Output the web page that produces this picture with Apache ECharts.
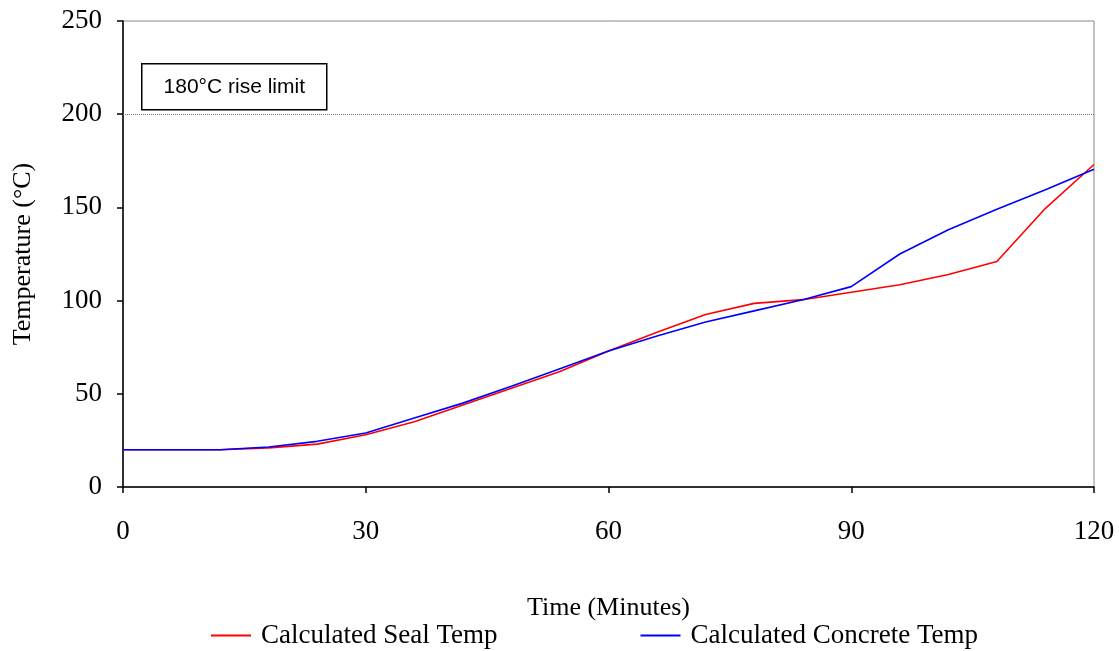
<!DOCTYPE html>
<html>
<head>
<meta charset="utf-8">
<script src="https://cdn.jsdelivr.net/npm/echarts@6/dist/echarts.min.js"></script>
<style>html,body{margin:0;padding:0;background:#fff}#c{width:1119px;height:651px}</style>
</head>
<body>
<div id="c"></div>
<script>
const times = [0,6,12,18,24,30,36,42,48,54,60,66,72,78,84,90,96,102,108,114,120];
const sealTemp = [20,20,20,21,23,28,35,44,53,62,73,83,92.5,98.5,100.5,104.5,108.5,114,121,149.5,173];
const concreteTemp = [20,20,20,21.5,24.5,29,37,45,54,63.5,73,81,88.5,94.5,100.5,107.5,125,138,149,159.5,170.5];
const limitValue = 200;
const limitLabel = '180°C rise limit';
const xTicks = [0,30,60,90,120];
const yTicks = [0,50,100,150,200,250];

const serif = '"Liberation Serif","Times New Roman",serif';
const chart = echarts.init(document.getElementById('c'));
chart.setOption({
  animation:false,
  backgroundColor:'#fff',
  grid:{left:123,right:25,top:21,bottom:164,containLabel:false,outerBoundsMode:'none',
    show:true,borderColor:'#888',borderWidth:1,backgroundColor:'transparent'},
  xAxis:{type:'value',min:0,max:120,interval:30,
    name:'Time (Minutes)',nameLocation:'middle',nameGap:108,
    nameTextStyle:{fontFamily:serif,fontSize:26,color:'#000'},
    axisLine:{lineStyle:{color:'#000',width:1.5}},
    axisTick:{show:true,length:6,inside:false,lineStyle:{color:'#000',width:1.5}},
    axisLabel:{fontFamily:serif,fontSize:27,color:'#000',margin:31},
    splitLine:{show:false}},
  yAxis:{type:'value',min:0,max:250,interval:50,
    name:'Temperature (°C)',nameLocation:'middle',nameGap:87,nameRotate:90,
    nameTextStyle:{fontFamily:serif,fontSize:26,color:'#000'},
    axisLine:{show:true,lineStyle:{color:'#000',width:1.5}},
    axisTick:{show:true,length:6,lineStyle:{color:'#000',width:1.5}},
    axisLabel:{fontFamily:serif,fontSize:27,color:'#000',margin:21},
    splitLine:{show:false}},
  legend:{top:617,left:206,itemGap:143,itemWidth:40,itemHeight:2,icon:'rect',
    textStyle:{fontFamily:serif,fontSize:27,color:'#000',padding:[0,0,0,5]},
    data:['Calculated Seal Temp','Calculated Concrete Temp']},
  graphic:[{type:'group',left:141,top:63,children:[
    {type:'rect',shape:{x:0,y:0,width:185,height:46},style:{fill:'#fff',stroke:'#000',lineWidth:1.5}},
    {type:'text',x:92.5,y:23,style:{text:limitLabel,font:'21px "Liberation Sans",Arial,sans-serif',fill:'#000',align:'center',verticalAlign:'middle'}}
  ]}],
  series:[
    {name:'Calculated Seal Temp',type:'line',symbol:'none',color:'#ff0000',
     lineStyle:{width:1.6,color:'#ff0000'},
     data:times.map((t,i)=>[t,sealTemp[i]]),
     markLine:{silent:true,symbol:'none',label:{show:false},
       lineStyle:{type:'dotted',color:'#777',width:1},data:[{yAxis:limitValue}]}},
    {name:'Calculated Concrete Temp',type:'line',symbol:'none',color:'#0000ff',
     lineStyle:{width:1.6,color:'#0000ff'},
     data:times.map((t,i)=>[t,concreteTemp[i]])}
  ]
});
</script>
</body>
</html>
